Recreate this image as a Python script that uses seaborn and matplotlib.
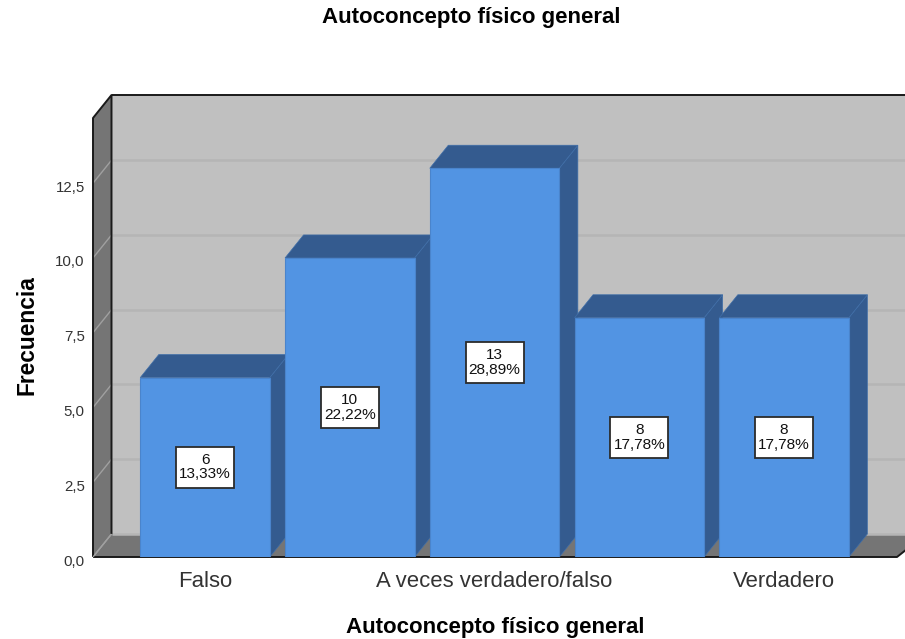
import matplotlib
matplotlib.use("Agg")
import matplotlib.pyplot as plt
from matplotlib.patches import Polygon, Rectangle
from matplotlib.transforms import ScaledTranslation
import pandas as pd
import seaborn as sns

categories = ["Falso", " ", "A veces verdadero/falso", "  ", "Verdadero"]
counts = [6, 10, 13, 8, 8]
percents = ["13,33%", "22,22%", "28,89%", "17,78%", "17,78%"]
yticks = [0, 2.5, 5, 7.5, 10, 12.5]
ytick_labels = ["0,0", "2,5", "5,0", "7,5", "10,0", "12,5"]
title = "Autoconcepto físico general"
ylabel = "Frecuencia"

FRONT = "#5294E3"
DARK = "#345B8F"
WALL = "#C0C0C0"
SIDE = "#757575"
GRID = "#B5B5B5"
GRID_SIDE = "#A0A0A0"

sns.set_theme(style="white")
plt.rcParams["font.family"] = ["Liberation Sans", "DejaVu Sans"]

W, H = 905, 639
fig = plt.figure(figsize=(W / 100, H / 100), dpi=100, facecolor="white")
ax = fig.add_axes([93 / W, (H - 557) / H, (897 - 93) / W, (557 - 118) / H])

df = pd.DataFrame({"cat": categories, "n": counts})
sns.barplot(data=df, x="cat", y="n", order=categories, color=FRONT, saturation=1,
            width=0.895, ax=ax, errorbar=None)

x0, x1 = -0.774, 4.78
y0, y1 = 0, 14.68
ax.set_xlim(x0, x1)
ax.set_ylim(y0, y1)
dx, dy = 18.5 / 144.75, 23 / 29.9
right = x1 + 0.2


def poly(pts, fc, ec="none", lw=0, z=1):
    ax.add_patch(Polygon(pts, closed=True, facecolor=fc, edgecolor=ec, linewidth=lw,
                         zorder=z, clip_on=False))


def line(xs, ys, c, lw, z):
    ax.plot(xs, ys, color=c, lw=lw, zorder=z, clip_on=False, solid_capstyle="butt")


# Box walls
poly([(x0 + dx, dy), (right, dy), (right, y1 + dy), (x0 + dx, y1 + dy)], WALL, z=1)
poly([(x0, 0), (x0 + dx, dy), (x0 + dx, y1 + dy), (x0, y1)], SIDE, z=1)
poly([(x0, 0), (x1, 0), (right, dy), (x0 + dx, dy)], SIDE, z=1)
for v in yticks:
    line([x0 + dx, right], [v + dy, v + dy], GRID, 1.8, 2)
for v in yticks:
    line([x0, x0 + dx], [v, v + dy], GRID_SIDE, 1.0, 2)
line([x0, x0, x0 + dx, x0 + dx], [0, y1, y1 + dy, dy], "#1a1a1a", 1.4, 3)
line([x0 + dx, right], [y1 + dy, y1 + dy], "#1a1a1a", 1.4, 3)
line([x0, x1, right], [0, 0, dy], "#1a1a1a", 1.4, 3)
line([x0 + dx, x0], [dy, 0], GRID_SIDE, 1.0, 3)

# Bars: the depth faces are derived from the bars the library drew
box_w, box_h = 58 / 144.75, 41 / 29.9
for i, (bar, n, p) in enumerate(zip(ax.patches, counts, percents)):
    left, w = bar.get_x(), bar.get_width()
    rgt = left + w
    z = 5 + i
    poly([(rgt, 0), (rgt + dx, dy), (rgt + dx, n + dy), (rgt, n)], DARK, ec="#3f6ea8", lw=0.5, z=z)
    poly([(left, n), (rgt, n), (rgt + dx, n + dy), (left + dx, n + dy)], DARK, ec="#3f6ea8", lw=0.5, z=z)
    bar.set_zorder(z + 0.1)
    bar.set_edgecolor("#4A84CC")
    bar.set_linewidth(0.8)
    cx, cy = left + w / 2, n / 2
    ax.add_patch(Rectangle((cx - box_w / 2, cy - box_h / 2), box_w, box_h, facecolor="white",
                           edgecolor="#2b2b2b", linewidth=1.3, zorder=19))
    ax.text(cx, cy, f"{n}\n{p}", ha="center", va="center", fontsize=11.1,
            color="#111111", linespacing=1.03, zorder=20, clip_on=False)

for s in ax.spines.values():
    s.set_visible(False)
ax.set_yticks(yticks)
ax.set_yticklabels(ytick_labels, fontsize=10.8, color="#333333")
ax.set_xticks(range(len(categories)))
ax.set_xticklabels(categories, fontsize=15.9, color="#333333")
ax.tick_params(axis="y", length=0, pad=6)
ax.tick_params(axis="x", length=0, pad=10)
shift = ScaledTranslation(0, -3 / 100, fig.dpi_scale_trans)
for lab in ax.get_yticklabels():
    lab.set_transform(lab.get_transform() + shift)
ax.set_xlabel(title, fontsize=16, fontweight="bold", color="black", labelpad=18)
ax.set_ylabel(ylabel, fontsize=16.4, fontweight="bold", color="black", labelpad=12)
ax.yaxis.label.set_y(0.505)
fig.text(471 / W, 1 - 18 / H, title, ha="center", va="center", fontsize=16,
         fontweight="bold", color="black")

fig.savefig("out.png", dpi=100, facecolor="white")
